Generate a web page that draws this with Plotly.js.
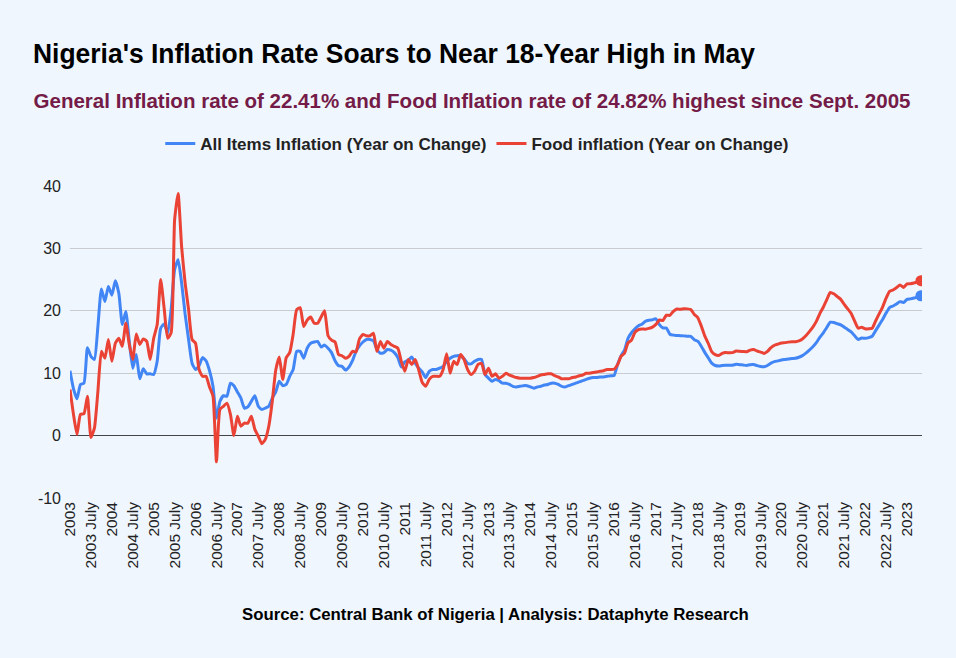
<!DOCTYPE html>
<html>
<head>
<meta charset="utf-8">
<script src="https://cdn.plot.ly/plotly-3.0.1.min.js"></script>
<style>
  html, body { margin: 0; padding: 0; background: #EFF6FE; }
  #chart { width: 956px; height: 658px; }
</style>
</head>
<body>
<div id="chart"></div>
<script>
// Monthly data, January 2003 to May 2023
const startYear = 2003;
const monthCount = 245;

const allItemsInflation = [
  10.4, 7.5, 5.9, 8.2, 8.4, 14.1, 12.7, 12.2, 17.5, 23.5, 21.5, 23.9,
  22.5, 24.8, 22.8, 17.8, 19.9, 15.1, 10.8, 13.0, 9.1, 10.7, 9.9, 9.9,
  9.8, 11.9, 17.2, 17.9, 16.4, 20.2, 26.6, 28.2, 24.5, 19.5, 15.4, 11.6,
  10.6, 11.2, 12.5, 12.0, 10.4, 7.9, 2.8, 5.5, 6.4, 6.3, 8.4, 8.0,
  7.0, 6.0, 4.4, 4.6, 5.5, 6.4, 4.7, 4.2, 4.4, 4.7, 6.0, 7.0,
  8.7, 8.0, 8.2, 9.5, 10.6, 13.5, 13.5, 12.4, 14.0, 14.8, 15.0, 15.1,
  14.2, 14.5, 14.0, 13.3, 12.0, 11.2, 11.1, 10.5, 11.0, 12.0, 13.5, 14.4,
  15.0, 15.4, 15.4, 15.2, 13.8, 13.2, 13.3, 13.8, 13.7, 13.3, 12.5, 11.0,
  11.8, 12.1, 12.6, 11.6, 10.8, 10.2, 9.3, 10.3, 10.6, 10.6, 10.8, 11.1,
  11.9, 12.4, 12.7, 12.8, 12.8, 12.3, 11.6, 11.5, 11.9, 12.2, 12.2, 9.8,
  9.2, 8.7, 9.0, 8.8, 8.4, 8.4, 8.2, 7.9, 7.8, 7.9, 8.0, 8.0,
  7.8, 7.6, 7.8, 7.9, 8.1, 8.2, 8.4, 8.4, 8.2, 7.9, 7.8, 8.0,
  8.2, 8.4, 8.6, 8.8, 9.0, 9.2, 9.3, 9.3, 9.4, 9.4, 9.5, 9.6,
  9.62, 11.38, 12.77, 13.72, 15.58, 16.48, 17.13, 17.61, 17.85, 18.33, 18.48, 18.55,
  18.72, 17.78, 17.26, 17.24, 16.25, 16.10, 16.05, 16.01, 15.98, 15.91, 15.90, 15.37,
  15.13, 14.33, 13.34, 12.48, 11.61, 11.23, 11.14, 11.23, 11.28, 11.26, 11.28, 11.44,
  11.37, 11.31, 11.25, 11.37, 11.40, 11.22, 11.08, 11.02, 11.24, 11.61, 11.85, 11.98,
  12.13, 12.20, 12.26, 12.34, 12.40, 12.56, 12.82, 13.22, 13.71, 14.23, 14.89, 15.75,
  16.47, 17.33, 18.17, 18.12, 17.93, 17.75, 17.38, 17.01, 16.63, 15.99, 15.40, 15.63,
  15.60, 15.70, 15.92, 16.82, 17.71, 18.60, 19.64, 20.52, 20.77, 21.09, 21.47, 21.34,
  21.82, 21.91, 22.04, 22.22, 22.41
];

const foodInflation = [
  7.4, 3.4, 0.2, 3.4, 3.5, 6.3, -0.3, 1.2, 7.1, 13.5, 12.4, 15.4,
  11.9, 14.8, 15.6, 14.3, 18.0, 14.6, 12.2, 16.3, 14.6, 15.5, 15.1, 12.2,
  15.6, 17.8, 25.0, 20.4, 15.6, 16.5, 34.6, 38.8, 30.3, 24.5, 20.2, 15.4,
  14.8, 10.6, 9.5, 9.5, 7.8, 6.3, -4.2, 4.2, 4.7, 5.2, 3.4, 0.0,
  3.1, 1.5, 2.0, 2.0, 3.1, 1.0, -0.1, -1.3, -0.6, 1.5, 5.5, 10.5,
  12.6, 9.0, 12.5, 13.3, 16.3, 20.2, 20.5, 17.5, 18.5, 19.0, 18.0, 18.0,
  19.0, 20.0, 16.0, 15.3, 15.0, 13.0, 12.8, 12.4, 12.7, 13.5, 13.4, 15.5,
  16.2, 16.0, 16.0, 16.4, 13.5, 15.1, 14.0, 15.1, 14.6, 14.3, 14.0, 11.9,
  10.3, 12.2, 11.4, 12.2, 10.5, 8.5, 7.9, 9.0, 9.5, 9.5, 9.5, 10.6,
  13.1, 10.0, 11.9, 11.4, 13.0, 12.2, 10.6, 9.8, 10.3, 11.4, 11.6, 9.8,
  10.8, 9.5, 9.9, 9.2, 9.5, 10.0, 9.7, 9.5, 9.3, 9.2, 9.2, 9.2,
  9.2, 9.3, 9.5, 9.7, 9.8, 9.9, 9.9, 9.6, 9.4, 9.1, 9.1, 9.1,
  9.3, 9.4, 9.6, 9.7, 10.0, 10.0, 10.1, 10.2, 10.3, 10.4, 10.6, 10.6,
  10.64, 11.35, 12.70, 13.20, 14.86, 15.30, 16.53, 16.98, 17.09, 17.06, 17.19, 17.39,
  17.82, 18.53, 18.44, 19.30, 19.27, 19.91, 20.28, 20.25, 20.32, 20.31, 20.21, 19.42,
  18.92, 17.59, 15.98, 14.80, 13.45, 12.98, 12.85, 13.16, 13.31, 13.28, 13.30, 13.56,
  13.51, 13.47, 13.45, 13.70, 13.79, 13.56, 13.39, 13.17, 13.51, 14.09, 14.48, 14.67,
  14.85, 14.90, 14.98, 15.03, 15.04, 15.18, 15.48, 16.00, 16.66, 17.38, 18.30, 19.56,
  20.57, 21.79, 22.95, 22.72, 22.28, 21.83, 21.03, 20.30, 19.57, 18.34, 17.21, 17.37,
  17.13, 17.11, 17.20, 18.37, 19.50, 20.60, 22.02, 23.12, 23.34, 23.72, 24.13, 23.75,
  24.32, 24.35, 24.45, 24.61, 24.82
];

const seriesNames = ["All Items Inflation (Year on Change)", "Food inflation (Year on Change)"];
const seriesColors = ["#4285F4", "#EA4335"];
const yTickVals = [-10, 0, 10, 20, 30, 40];
const yTickText = ["-10", "0", "10", "20", "30", "40"];

// Month categories and half-yearly tick labels
const months = [];
for (let i = 0; i < monthCount; i++) {
  const y = startYear + Math.floor(i / 12);
  const mo = (i % 12) + 1;
  months.push(y + "-" + (mo < 10 ? "0" + mo : mo));
}
const tickVals = [];
const tickText = [];
for (let i = 0; i < monthCount; i += 6) {
  tickVals.push(months[i]);
  const y = startYear + Math.floor(i / 12);
  tickText.push(i % 12 === 0 ? String(y) : y + " July");
}

const last = monthCount - 1;
const traces = [
  {
    x: months, y: allItemsInflation, type: "scatter", mode: "lines",
    name: seriesNames[0],
    line: { color: seriesColors[0], width: 3, shape: "spline", smoothing: 0.5 }
  },
  {
    x: months, y: foodInflation, type: "scatter", mode: "lines",
    name: seriesNames[1],
    line: { color: seriesColors[1], width: 3, shape: "spline", smoothing: 0.5 }
  },
  {
    x: [months[last]], y: [allItemsInflation[last]], type: "scatter", mode: "markers",
    marker: { color: seriesColors[0], size: 11 }, showlegend: false
  },
  {
    x: [months[last]], y: [foodInflation[last]], type: "scatter", mode: "markers",
    marker: { color: seriesColors[1], size: 11 }, showlegend: false
  }
];

const bg = "#EFF6FE";
const titleText = "Nigeria's Inflation Rate Soars to Near 18-Year High in May";
const subtitleText = "General Inflation rate of 22.41% and Food Inflation rate of 24.82% highest since Sept. 2005";

const layout = {
  width: 956, height: 658,
  paper_bgcolor: bg, plot_bgcolor: bg,
  margin: { l: 70, r: 34, t: 186, b: 160, pad: 0 },
  font: { family: "Liberation Sans, Arial, sans-serif", color: "#222" },
  title: {
    text: titleText,
    font: { family: "Liberation Sans, Arial, sans-serif", size: 27, color: "#000", weight: "bold" },
    xref: "container", yref: "container",
    x: 33 / 956, xanchor: "left",
    y: 1 - 54 / 658, yanchor: "middle"
  },
  showlegend: true,
  legend: {
    orientation: "h", x: 0.478, xanchor: "center",
    y: (498 - 144) / 312, yanchor: "middle",
    font: { size: 17, color: "#222", weight: "bold" },
    itemwidth: 30,
    bgcolor: "rgba(0,0,0,0)"
  },
  xaxis: {
    type: "category",
    range: [0, 244.3],
    tickmode: "array", tickvals: tickVals, ticktext: tickText,
    tickangle: -90,
    tickfont: { size: 15.5, color: "#222" },
    showgrid: false, zeroline: false, showline: false,
    ticks: "", fixedrange: true
  },
  yaxis: {
    range: [-10, 40],
    tickmode: "array", tickvals: yTickVals, ticktext: yTickText,
    tickfont: { size: 16, color: "#222" },
    showgrid: true, gridcolor: "#C8CCD0", gridwidth: 1,
    zeroline: true, zerolinecolor: "#444", zerolinewidth: 1.5,
    showline: false, ticks: "", ticklabelstandoff: 8, fixedrange: true
  },
  annotations: [
    {
      text: subtitleText,
      xref: "paper", yref: "paper",
      x: (471.5 - 70) / 852, xanchor: "center",
      y: (498 - 100) / 312, yanchor: "middle",
      showarrow: false,
      font: { family: "Liberation Sans, Arial, sans-serif", size: 20.5, color: "#741B47", weight: "bold" }
    },
    {
      text: "Source: Central Bank of Nigeria | Analysis: Dataphyte Research",
      xref: "paper", yref: "paper",
      x: (495 - 70) / 852, xanchor: "center",
      y: (498 - 614) / 312, yanchor: "middle",
      showarrow: false,
      font: { size: 16.8, color: "#000", weight: "bold" }
    }
  ]
};

Plotly.newPlot("chart", traces, layout, { displayModeBar: false, staticPlot: true }).then(function (gd) {
  // Condense the title and subtitle to the reference's narrow lettering
  const t = gd.querySelector(".gtitle");
  if (t) {
    t.setAttribute("textLength", "722");
    t.setAttribute("lengthAdjust", "spacingAndGlyphs");
  }
  const ann = gd.querySelectorAll(".annotation-text");
  if (ann.length) {
    ann[0].setAttribute("textLength", "877");
    ann[0].setAttribute("lengthAdjust", "spacingAndGlyphs");
  }
});
</script>
</body>
</html>
